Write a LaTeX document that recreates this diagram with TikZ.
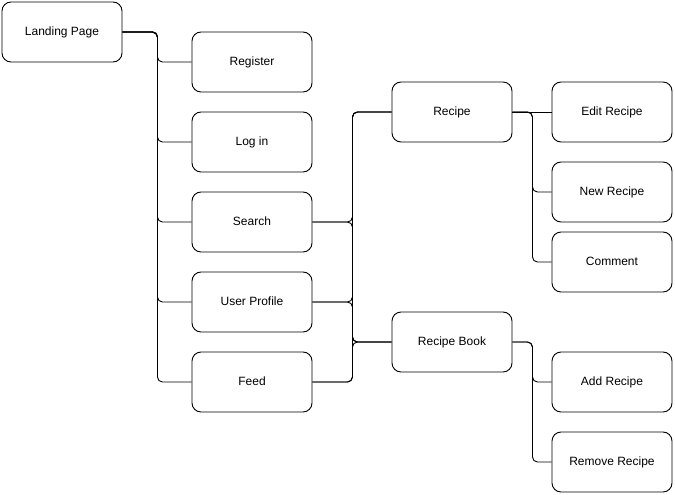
\documentclass[tikz,border=0pt]{standalone}
\usepackage{fontspec}
\setmainfont{Liberation Sans}
\begin{document}
\begin{tikzpicture}[x=1pt,y=-1pt,
  box/.style={draw=black,line width=0.9pt,rounded corners=9pt,minimum width=120pt,minimum height=60pt,inner sep=0pt,font=\fontsize{12}{14}\selectfont,fill=white,text height=8.6pt,text depth=2.4pt},
  conn/.style={draw=black,line width=0.9pt,rounded corners=5pt}]
\useasboundingbox (0,0) rectangle (675,495);
\node[box] (lp) at (62,32) {Landing Page};
\node[box] (reg) at (252,62) {Register};
\node[box] (log) at (252,142) {Log in};
\node[box] (sea) at (252,222) {Search};
\node[box] (usr) at (252,302) {User Profile};
\node[box] (feed) at (252,382) {Feed};
\node[box] (rec) at (452,112) {Recipe};
\node[box] (book) at (452,342) {Recipe Book};
\node[box] (edit) at (612,112) {Edit Recipe};
\node[box] (new) at (612,192) {New Recipe};
\node[box] (com) at (612,262) {Comment};
\node[box] (add) at (612,382) {Add Recipe};
\node[box] (rem) at (612,462) {Remove Recipe};
\foreach \t in {reg,log,sea,usr,feed}
  \draw[conn] (lp.east) -- ++(35,0) |- (\t.west);
\foreach \s in {sea,usr,feed}{
  \draw[conn] (\s.east) -- ++(40,0) |- (rec.west);
  \draw[conn] (\s.east) -- ++(40,0) |- (book.west);
}
\draw[conn] (rec.east) -- (edit.west);
\foreach \t in {new,com}
  \draw[conn] (rec.east) -- ++(20,0) |- (\t.west);
\foreach \t in {add,rem}
  \draw[conn] (book.east) -- ++(20,0) |- (\t.west);
\end{tikzpicture}
\end{document}
